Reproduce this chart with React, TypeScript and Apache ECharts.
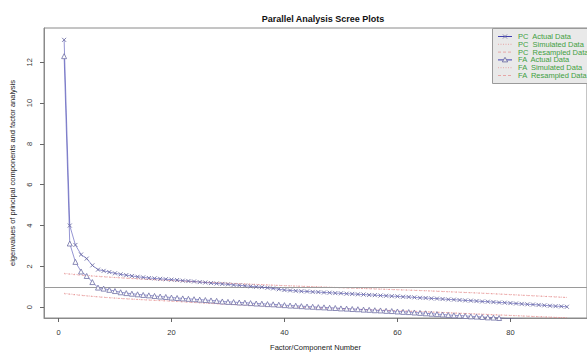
import React, { useEffect, useRef } from "react";
import * as echarts from "echarts";

// Factor / component numbers 1..90
const components: number[] = Array.from({ length: 90 }, (_, i) => i + 1);

const pcActual: number[] = [
  13.1, 4.0, 3.05, 2.58, 2.38, 2.05, 1.84, 1.78, 1.72, 1.66,
  1.61, 1.57, 1.53, 1.49, 1.46, 1.43, 1.41, 1.39, 1.37, 1.35,
  1.33, 1.3, 1.28, 1.26, 1.23, 1.21, 1.18, 1.16, 1.14, 1.12,
  1.09, 1.07, 1.05, 1.02, 1.0, 0.98, 0.95, 0.92, 0.88, 0.84,
  0.82, 0.8, 0.78, 0.77, 0.75, 0.74, 0.72, 0.71, 0.69, 0.68,
  0.66, 0.65, 0.63, 0.62, 0.6, 0.59, 0.57, 0.56, 0.54, 0.53,
  0.51, 0.5, 0.48, 0.46, 0.45, 0.43, 0.42, 0.4, 0.38, 0.37,
  0.35, 0.33, 0.32, 0.3, 0.28, 0.27, 0.25, 0.23, 0.22, 0.2,
  0.18, 0.16, 0.14, 0.13, 0.11, 0.09, 0.07, 0.05, 0.04, 0.02,
];

const faActual: number[] = [
  12.3, 3.12, 2.22, 1.75, 1.53, 1.23, 0.96, 0.91, 0.85, 0.79,
  0.73, 0.69, 0.66, 0.63, 0.6, 0.58, 0.55, 0.52, 0.5, 0.47,
  0.45, 0.43, 0.41, 0.39, 0.37, 0.35, 0.33, 0.31, 0.28, 0.26,
  0.25, 0.23, 0.22, 0.2, 0.18, 0.17, 0.15, 0.14, 0.12, 0.1,
  0.08, 0.07, 0.05, 0.03, 0.02, 0.0, -0.01, -0.03, -0.04, -0.06,
  -0.07, -0.09, -0.1, -0.12, -0.13, -0.15, -0.16, -0.18, -0.19, -0.21,
  -0.23, -0.24, -0.26, -0.28, -0.3, -0.32, -0.34, -0.36, -0.38, -0.4,
  -0.41, -0.43, -0.45, -0.46, -0.48, -0.5, -0.51, -0.53, -0.55, -0.56,
  -0.58, -0.59, -0.61, -0.62, -0.64, -0.65, -0.67, -0.68, -0.7, -0.71,
];

// Simulated / resampled curves read at these component numbers
const simX: number[] = [1, 5, 10, 15, 20, 25, 30, 35, 40, 45, 50, 55, 60, 65, 70, 75, 80, 85, 90];
const pcSimulated: number[] = [1.66, 1.56, 1.46, 1.38, 1.31, 1.24, 1.18, 1.12, 1.06, 1.01, 0.96, 0.91, 0.86, 0.81, 0.75, 0.69, 0.62, 0.55, 0.48];
const pcResampled: number[] = [1.64, 1.54, 1.45, 1.37, 1.3, 1.23, 1.17, 1.11, 1.05, 1.0, 0.95, 0.9, 0.85, 0.8, 0.74, 0.68, 0.61, 0.54, 0.47];
const faSimulated: number[] = [0.68, 0.56, 0.45, 0.37, 0.3, 0.22, 0.15, 0.09, 0.03, -0.02, -0.07, -0.12, -0.17, -0.22, -0.28, -0.34, -0.4, -0.46, -0.52];
const faResampled: number[] = [0.66, 0.55, 0.44, 0.36, 0.29, 0.21, 0.14, 0.08, 0.02, -0.03, -0.08, -0.13, -0.18, -0.23, -0.29, -0.35, -0.41, -0.47, -0.53];

const refLine = 1;
const xTicks: number[] = [0, 20, 40, 60, 80];
const yTicks: number[] = [0, 2, 4, 6, 8, 10, 12];

const legendLabels: string[] = [
  "PC  Actual Data",
  "PC  Simulated Data",
  "PC  Resampled Data",
  "FA  Actual Data",
  "FA  Simulated Data",
  "FA  Resampled Data",
];

const FONT = '"Liberation Sans", Arial, Helvetica, sans-serif';
const BLUE_LINE = "#4040b0";
const MARK = "#6e6ea4";
const RED = "#e48a8a";

const pair = (xs: number[], ys: number[]) => xs.map((x, i) => [x, ys[i]]);

export default function App() {
  const ref = useRef<HTMLDivElement>(null);

  useEffect(() => {
    document.body.style.margin = "0";
    if (!ref.current) return;
    const chart = echarts.init(ref.current, undefined, { renderer: "svg" });

    const rowY = (i: number) => 36.5 + i * 7.8;
    const legendEls: any[] = [
      {
        type: "rect",
        shape: { x: 492.5, y: 28.5, width: 120, height: 55 },
        style: { fill: "#e9e9e9", stroke: "#9a9a9a", lineWidth: 1 },
      },
    ];
    legendLabels.forEach((label, i) => {
      const y = rowY(i);
      const isActual = i === 0 || i === 3;
      const dash = i === 1 || i === 4 ? [1, 1.5] : i === 2 || i === 5 ? [3, 2] : undefined;
      legendEls.push({
        type: "line",
        shape: { x1: 498, y1: y, x2: 512, y2: y },
        style: {
          stroke: isActual ? BLUE_LINE : RED,
          lineWidth: isActual ? 1 : 0.7,
          lineDash: dash,
        },
      });
      if (i === 0) {
        legendEls.push(
          { type: "line", shape: { x1: 503, y1: y - 2, x2: 507, y2: y + 2 }, style: { stroke: MARK, lineWidth: 0.9 } },
          { type: "line", shape: { x1: 507, y1: y - 2, x2: 503, y2: y + 2 }, style: { stroke: MARK, lineWidth: 0.9 } }
        );
      }
      if (i === 3) {
        legendEls.push({
          type: "polygon",
          shape: { points: [[505, y - 2.6], [502.3, y + 2], [507.7, y + 2]] },
          style: { fill: "#e9e9e9", stroke: MARK, lineWidth: 0.9 },
        });
      }
      legendEls.push({
        type: "text",
        x: 518,
        y,
        style: {
          text: label,
          font: `7.5px ${FONT}`,
          fill: "#3f9f3f",
          verticalAlign: "middle",
          align: "left",
        },
      });
    });

    const option: any = {
      animation: false,
      backgroundColor: "#ffffff",
      title: {
        text: "Parallel Analysis Scree Plots",
        left: 318,
        top: 9,
        textAlign: "center",
        textStyle: { fontFamily: FONT, fontSize: 9, fontWeight: "bold", color: "#111" },
      },
      grid: {
        left: 42,
        top: 28,
        width: 553,
        height: 297,
        show: true,
        borderColor: "#8a8a8a",
        borderWidth: 1,
        backgroundColor: "transparent",
      },
      xAxis: {
        type: "value",
        min: -2.56,
        max: 93.56,
        name: "Factor/Component Number",
        nameLocation: "middle",
        nameGap: 25,
        nameTextStyle: { fontFamily: FONT, fontSize: 7.5, color: "#222" },
        axisLine: { show: true, onZero: false, lineStyle: { color: "#8a8a8a" } },
        axisTick: { show: true, length: 4, customValues: xTicks, lineStyle: { color: "#666" } },
        axisLabel: {
          customValues: xTicks,
          fontFamily: FONT,
          fontSize: 7.5,
          color: "#333",
          margin: 10,
        },
        splitLine: { show: false },
      },
      yAxis: {
        type: "value",
        min: -0.53,
        max: 13.68,
        name: "eigenvalues of principal components and factor analysis",
        nameLocation: "middle",
        nameGap: 28,
        nameTextStyle: { fontFamily: FONT, fontSize: 7.5, color: "#222" },
        axisLine: { show: true, onZero: false, lineStyle: { color: "#8a8a8a" } },
        axisTick: { show: true, length: 4, customValues: yTicks, lineStyle: { color: "#666" } },
        axisLabel: {
          customValues: yTicks,
          rotate: 90,
          fontFamily: FONT,
          fontSize: 7.5,
          color: "#333",
          margin: 11,
        },
        splitLine: { show: false },
      },
      series: [
        {
          name: "PC  Simulated Data",
          type: "line",
          data: pair(simX, pcSimulated),
          symbol: "none",
          smooth: 0.3,
          lineStyle: { color: RED, width: 0.7, type: [1, 1.5] },
          z: 3,
        },
        {
          name: "PC  Resampled Data",
          type: "line",
          data: pair(simX, pcResampled),
          symbol: "none",
          smooth: 0.3,
          lineStyle: { color: RED, width: 0.6, type: [2, 2.5] },
          z: 3,
        },
        {
          name: "FA  Simulated Data",
          type: "line",
          data: pair(simX, faSimulated),
          symbol: "none",
          smooth: 0.3,
          lineStyle: { color: RED, width: 0.7, type: [1, 1.5] },
          z: 3,
          markLine: {
            silent: true,
            symbol: "none",
            label: { show: false },
            lineStyle: { color: "#9a9a9a", type: "solid", width: 1 },
            data: [{ yAxis: refLine }],
          },
        },
        {
          name: "FA  Resampled Data",
          type: "line",
          data: pair(simX, faResampled),
          symbol: "none",
          smooth: 0.3,
          lineStyle: { color: RED, width: 0.6, type: [2, 2.5] },
          z: 3,
        },
        {
          name: "PC  Actual Data",
          type: "line",
          data: pair(components, pcActual),
          symbol: "path://M0,0L10,10M10,0L0,10",
          symbolSize: 4,
          showAllSymbol: true,
          itemStyle: { color: "rgba(0,0,0,0)", borderColor: MARK, borderWidth: 0.9 },
          lineStyle: { color: BLUE_LINE, width: 0.8, opacity: 0.7 },
          z: 5,
        },
        {
          name: "FA  Actual Data",
          type: "line",
          data: pair(components, faActual),
          symbol: "triangle",
          symbolSize: 5,
          showAllSymbol: true,
          itemStyle: { color: "#ffffff", borderColor: MARK, borderWidth: 0.8 },
          lineStyle: { color: BLUE_LINE, width: 0.8, opacity: 0.7 },
          z: 5,
        },
      ],
      graphic: [{ type: "group", z: 100, children: legendEls }],
    };

    chart.setOption(option);
    return () => chart.dispose();
  }, []);

  return <div ref={ref} style={{ width: 587, height: 356 }} />;
}
